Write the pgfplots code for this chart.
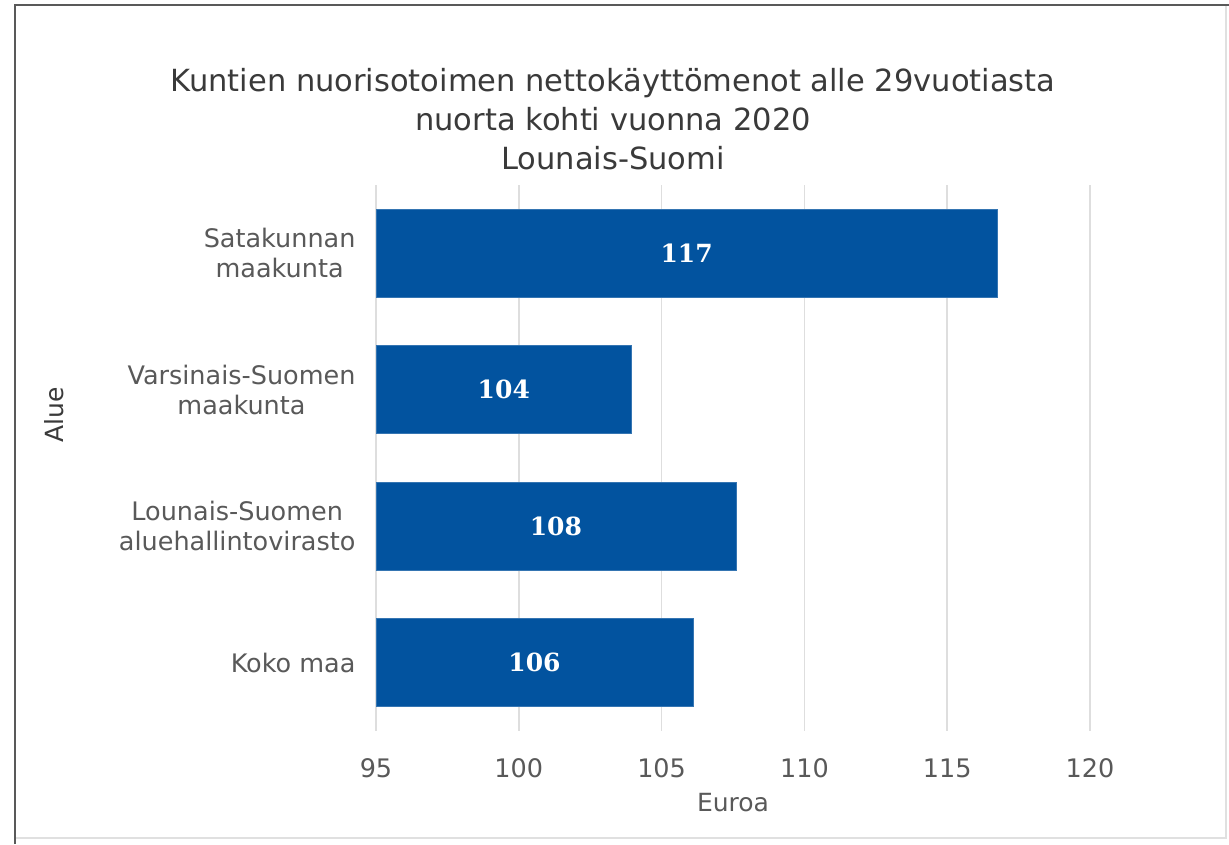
\documentclass[border=0pt]{standalone}
\usepackage{pgfplots}
\pgfplotsset{compat=1.18}
\usepackage{fontspec}
\setmainfont{DejaVu Sans}
\newfontfamily\valfont{DejaVu Serif}
\definecolor{barblue}{HTML}{02539F}
\definecolor{txtgray}{HTML}{595959}
\definecolor{ttlgray}{HTML}{3A3A3A}
\begin{document}
\begin{tikzpicture}
\useasboundingbox (0pt,0pt) rectangle (1229pt,-844pt);
\fill[white] (0pt,0pt) rectangle (1229pt,-844pt);
\draw[color=black!12, line width=1.5pt] (1226pt,-5pt) -- (1226pt,-838pt) -- (15pt,-838pt);
\draw[color=black!65, line width=2.5pt] (15pt,-844pt) -- (15pt,-5pt) -- (1229pt,-5pt);
\begin{axis}[
  at={(376pt,-731pt)}, anchor=south west,
  scale only axis, width=714pt, height=546pt,
  xmin=95, xmax=120, ymin=-0.5, ymax=3.5,
  y dir=reverse,
  axis line style={draw=none},
  tick style={draw=none},
  xtick={95,100,...,120},
  ytick={0,1,2,3},
  yticklabels={{Satakunnan\\maakunta},{Varsinais-Suomen\\maakunta},{Lounais-Suomen\\aluehallintovirasto},{Koko maa}},
  yticklabel style={align=center, font=\fontsize{25.5}{30}\selectfont, text=txtgray, xshift=-17pt},
  xticklabel style={font=\fontsize{25.5}{30}\selectfont, text=txtgray, yshift=-24pt},
  /pgf/number format/assume math mode=true,
  xmajorgrids,
  grid style={color=black!13, line width=1.5pt},
  xlabel={Euroa},
  xlabel style={at={(axis description cs:0.5,0)}, anchor=center, yshift=-72pt, font=\fontsize{25}{30}\selectfont, text=txtgray},
]
\addplot[xbar, bar width=88pt, fill=barblue, draw=barblue!80!white, line width=0.6pt] coordinates {
  (116.75,0) (103.95,1) (107.6,2) (106.1,3)
};
\addplot[draw=none, mark=none, nodes near coords, point meta=explicit symbolic,
  nodes near coords style={anchor=center, font=\valfont\bfseries\fontsize{25}{28}\selectfont, text=white}]
  table[meta=lab] {
x y lab
105.875 0 117
99.475 1 104
101.3 2 108
100.55 3 106
};
\end{axis}
\node[align=center, font=\fontsize{30.5}{39}\selectfont, text=ttlgray] at (613pt,-119pt)
  {Kuntien nuorisotoimen nettokäyttömenot alle 29vuotiasta\\nuorta kohti vuonna 2020\\Lounais-Suomi};
\node[rotate=90, font=\fontsize{25}{30}\selectfont, text=ttlgray] at (54pt,-415pt) {Alue};
\end{tikzpicture}
\end{document}
